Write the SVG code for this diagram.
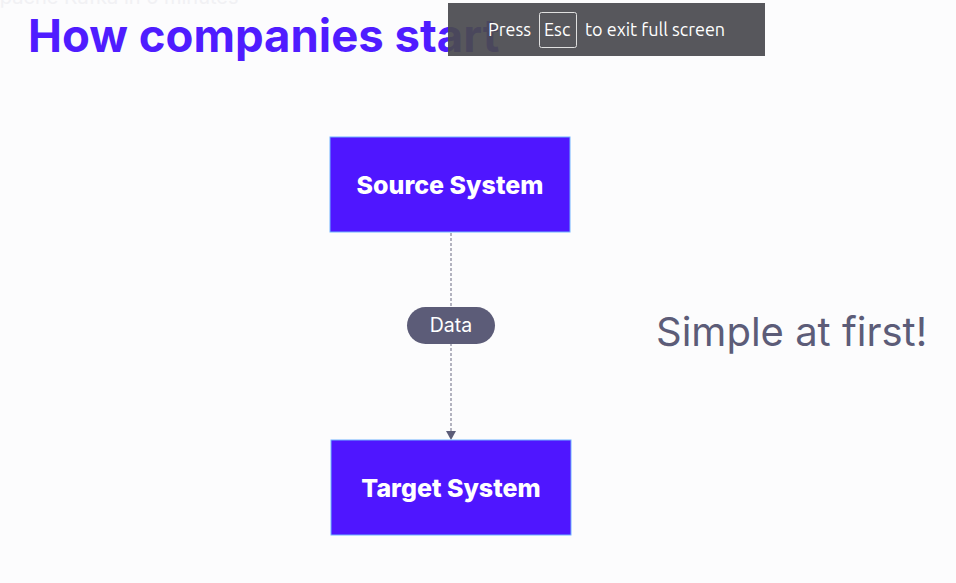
<svg xmlns="http://www.w3.org/2000/svg" width="956" height="583" viewBox="0 0 956 583">
<defs>
<style>
.box{fill:#4f16ff;stroke:#6fb2ff;stroke-width:1}
.boxt{font-family:Inter,"Noto Sans",sans-serif;font-weight:800;font-size:25px;fill:#ffffff;text-anchor:middle}
.conn{stroke:#6b6b82;stroke-width:1;stroke-dasharray:3,2;fill:none}
</style>
</defs>
<rect x="0" y="0" width="956" height="583" fill="#fcfcfd"/>
<text x="-14" y="4" font-family="Inter,'Noto Sans',sans-serif" font-size="20" fill="#f1f1f4">Apache Kafka in 5 minutes</text>
<text x="28" y="52" font-family="Inter,'Noto Sans',sans-serif" font-weight="700" font-size="45.5" fill="#4f1cff">How companies start</text>
<g id="connectors">
<line class="conn" x1="451" y1="233" x2="451" y2="432"/>
<path d="M446,431 L456,431 L451,440 Z" fill="#5c5c78"/>
</g>
<g id="source">
<rect class="box" x="330" y="137" width="240" height="95"/>
<text class="boxt" x="450" y="194">Source System</text>
</g>
<g id="target">
<rect class="box" x="331" y="440" width="240" height="95"/>
<text class="boxt" x="451" y="497">Target System</text>
</g>
<g id="data">
<rect x="407" y="307" width="88" height="37" rx="18.5" fill="#5c5c78"/>
<text x="451" y="332" font-family="Inter,'Noto Sans',sans-serif" font-size="19.5" fill="#ffffff" text-anchor="middle">Data</text>
</g>
<g id="note">
<text x="656" y="346" font-family="Inter,'Noto Sans',sans-serif" font-size="40" fill="#5c5c78">Simple at first!</text>
</g>
<g id="overlay">
<rect x="448" y="3" width="317" height="53" fill="#4a4a50" fill-opacity="0.93"/>
<rect x="539.5" y="12.5" width="37" height="35" rx="2" fill="none" stroke="#e0e0e0" stroke-width="1"/>
<text y="36" font-family="Ubuntu,'DejaVu Sans',sans-serif" font-size="18" fill="#ffffff"><tspan x="488">Press</tspan><tspan x="544">Esc</tspan><tspan x="585">to exit full screen</tspan></text>
</g>
</svg>
